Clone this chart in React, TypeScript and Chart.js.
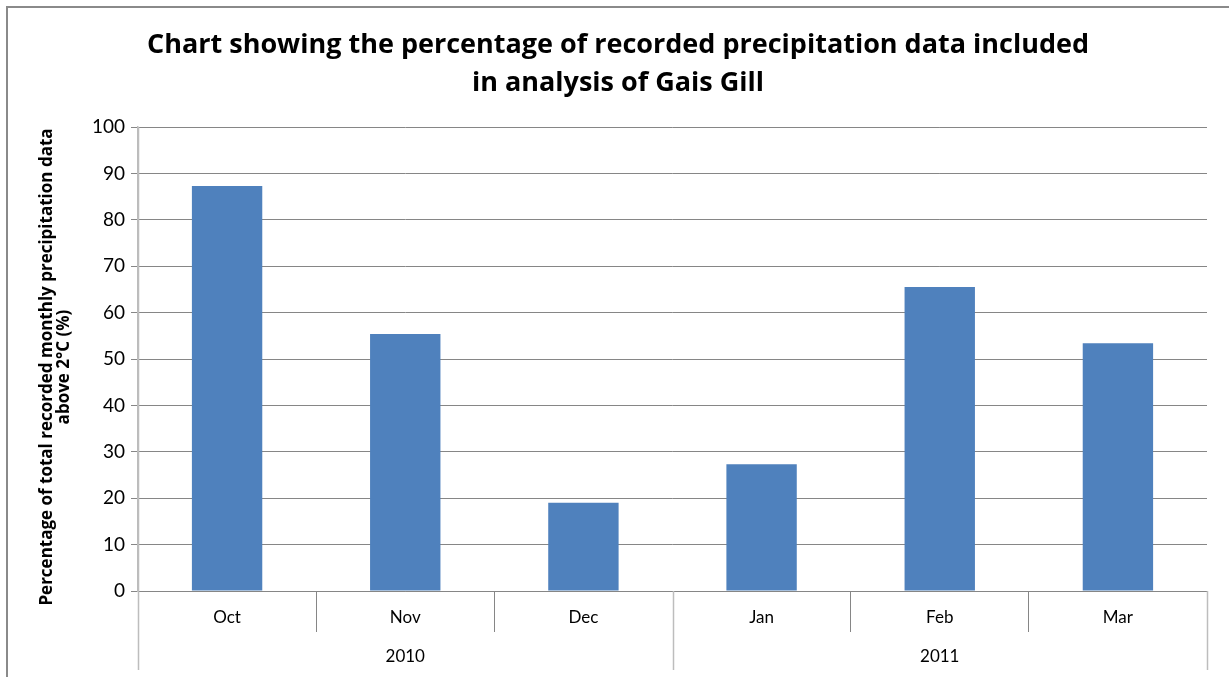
import React, { useEffect, useRef } from "react";
import { Chart, registerables } from "chart.js";

Chart.register(...registerables);

const months = ["Oct", "Nov", "Dec", "Jan", "Feb", "Mar"];
const years = ["2010", "2011"];
const yearOfMonth = [0, 0, 0, 1, 1, 1];
const values = [87.3, 55.4, 19.0, 27.3, 65.5, 53.4];
const yMin = 0;
const yMax = 100;
const yStep = 10;
const titleLines = [
  "Chart showing the percentage of recorded precipitation data included",
  "in analysis of Gais Gill",
];
const yTitleLines = [
  "Percentage of total recorded monthly precipitation data",
  "above 2°C (%)",
];

const FONT = "Lato, 'Open Sans', 'DejaVu Sans', sans-serif";
const BOLD_FONT = "'Open Sans', Lato, 'DejaVu Sans', sans-serif";
const BAR = "#4F81BD";
const GRID = "#868686";
const LIGHT = "#BDBDBD";

const isYearBoundary = (i: number | undefined) =>
  i === undefined || i === 0 || i >= months.length || yearOfMonth[i] !== yearOfMonth[i - 1];

const framePlugin = {
  id: "frame",
  beforeDraw(chart: any) {
    const { ctx } = chart;
    ctx.save();
    ctx.fillStyle = "#ffffff";
    ctx.fillRect(0, 0, chart.width, chart.height);
    ctx.strokeStyle = "#8A8A8A";
    ctx.lineWidth = 2;
    ctx.strokeRect(7, 7, chart.width + 20, chart.height + 20);
    ctx.restore();
  },
};

const yTitlePlugin = {
  id: "yTitle",
  afterDraw(chart: any) {
    const { ctx } = chart;
    ctx.save();
    ctx.fillStyle = "#000";
    ctx.font = `bold 17px ${BOLD_FONT}`;
    ctx.textAlign = "center";
    ctx.textBaseline = "middle";
    const cy = 367;
    const xs = [47, 64];
    yTitleLines.forEach((line, i) => {
      ctx.save();
      ctx.translate(xs[i], cy);
      ctx.rotate(-Math.PI / 2);
      ctx.fillText(line, 0, 0);
      ctx.restore();
    });
    ctx.restore();
  },
};

const yearGroupPlugin = {
  id: "yearGroups",
  afterDraw(chart: any) {
    const { ctx, chartArea } = chart;
    const x = chart.scales.x;
    const n = months.length;
    const w = (x.right - x.left) / n;
    const lineBottom = chart.height - 7;
    ctx.save();
    ctx.strokeStyle = LIGHT;
    ctx.lineWidth = 1.5;
    for (let i = 0; i <= n; i++) {
      if (!isYearBoundary(i)) continue;
      const px = Math.round(x.left + i * w) + 0.5;
      ctx.beginPath();
      ctx.moveTo(px, i === 0 ? chartArea.top : chartArea.bottom);
      ctx.lineTo(px, lineBottom);
      ctx.stroke();
    }
    ctx.fillStyle = "#000";
    ctx.font = `17px ${FONT}`;
    ctx.textAlign = "center";
    ctx.textBaseline = "middle";
    years.forEach((yr, yi) => {
      const idx = yearOfMonth.map((v, i) => (v === yi ? i : -1)).filter((i) => i >= 0);
      const start = x.left + idx[0] * w;
      const end = x.left + (idx[idx.length - 1] + 1) * w;
      ctx.fillText(yr, (start + end) / 2, 657);
    });
    ctx.restore();
  },
};

export default function App() {
  const ref = useRef<HTMLCanvasElement | null>(null);

  useEffect(() => {
    document.body.style.margin = "0";
    const canvas = ref.current;
    if (!canvas) return;
    const chart = new Chart(canvas, {
      type: "bar",
      data: {
        labels: months,
        datasets: [
          {
            data: values,
            backgroundColor: BAR,
            borderWidth: 0,
            barPercentage: 0.395,
            categoryPercentage: 1,
          },
        ],
      },
      plugins: [framePlugin, yearGroupPlugin, yTitlePlugin],
      options: {
        animation: false,
        responsive: false,
        maintainAspectRatio: false,
        layout: { padding: { left: 29, right: 22, top: 0, bottom: 0 } },
        plugins: {
          legend: { display: false },
          tooltip: { enabled: false },
          title: {
            display: true,
            text: titleLines,
            color: "#000",
            font: { family: BOLD_FONT, size: 27, weight: "bold", lineHeight: "38px" },
            padding: { top: 26, bottom: 25 },
          },
        },
        scales: {
          x: {
            type: "category",
            offset: true,
            afterFit: (s: any) => {
              s.height = 86;
            },
            grid: {
              display: true,
              offset: true,
              drawOnChartArea: false,
              drawTicks: true,
              tickLength: 41,
              lineWidth: 1,
              color: (c: any) => (isYearBoundary(c.index) ? "rgba(0,0,0,0)" : GRID),
            },
            border: { display: true, color: GRID, width: 1 },
            ticks: {
              color: "#000",
              font: { family: FONT, size: 17 },
              padding: -25,
              maxRotation: 0,
              autoSkip: false,
            },
          },
          y: {
            min: yMin,
            max: yMax,
            afterFit: (s: any) => {
              s.width = 109;
            },
            grid: {
              color: GRID,
              lineWidth: 1,
              drawTicks: true,
              tickLength: 7,
            },
            border: { display: true, color: LIGHT, width: 1.5 },
            ticks: {
              stepSize: yStep,
              color: "#000",
              font: { family: FONT, size: 19 },
              padding: 6,
            },
            title: { display: false },
          },
        },
      },
    });
    return () => chart.destroy();
  }, []);

  return (
    <div style={{ position: "fixed", left: 0, top: 0, width: 1229, height: 677 }}>
      <canvas ref={ref} width={1229} height={677} style={{ display: "block", width: 1229, height: 677 }} />
    </div>
  );
}
